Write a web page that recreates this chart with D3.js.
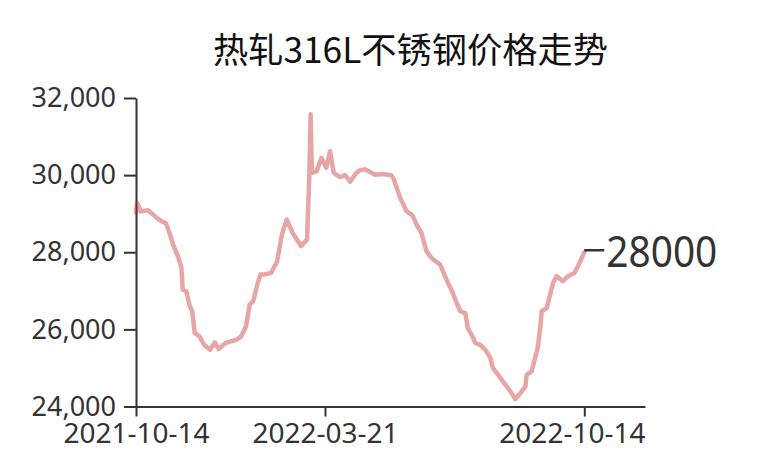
<!DOCTYPE html>
<html>
<head>
<meta charset="utf-8">
<script src="https://cdn.jsdelivr.net/npm/d3@7/dist/d3.min.js"></script>
<style>
  html, body { margin: 0; padding: 0; background: #fff; }
  svg { display: block; }
  text { font-family: "Noto Sans", "Open Sans", sans-serif; fill: #333; }
</style>
</head>
<body>
<svg id="chart" width="768" height="475"></svg>
<script>
const titleText = "热轧316L不锈钢价格走势";
const dates = [
  "2021-10-14","2021-10-15","2021-10-18","2021-10-24","2021-10-30","2021-11-03","2021-11-08","2021-11-11",
  "2021-11-14","2021-11-18","2021-11-21","2021-11-22","2021-11-25","2021-11-28","2021-11-30","2021-12-02",
  "2021-12-06","2021-12-10","2021-12-15","2021-12-19","2021-12-22","2021-12-28","2022-01-06","2022-01-10",
  "2022-01-14","2022-01-17","2022-01-20","2022-01-23","2022-01-26","2022-01-28","2022-02-04","2022-02-09",
  "2022-02-13","2022-02-17","2022-02-22","2022-03-01","2022-03-06","2022-03-07","2022-03-08","2022-03-09",
  "2022-03-10","2022-03-14","2022-03-18","2022-03-22","2022-03-25","2022-03-28","2022-04-02","2022-04-06",
  "2022-04-10","2022-04-15","2022-04-18","2022-04-22","2022-04-30","2022-05-06","2022-05-13","2022-05-15",
  "2022-05-20","2022-05-25","2022-05-30","2022-06-02","2022-06-06","2022-06-10","2022-06-14","2022-06-21",
  "2022-06-26","2022-07-01","2022-07-04","2022-07-07","2022-07-11","2022-07-13","2022-07-16","2022-07-19",
  "2022-07-23","2022-07-27","2022-07-31","2022-08-02","2022-08-08","2022-08-10","2022-08-16","2022-08-20",
  "2022-08-25","2022-08-28","2022-08-29","2022-09-02","2022-09-05","2022-09-07","2022-09-09","2022-09-10",
  "2022-09-14","2022-09-19","2022-09-22","2022-09-27","2022-10-01","2022-10-06","2022-10-09","2022-10-14"
];
const prices = [
  29030,29280,29060,29090,28930,28830,28750,28500,
  28200,27900,27600,27030,26990,26600,26470,25910,
  25820,25600,25470,25660,25490,25650,25730,25820,
  26080,26640,26730,27120,27420,27420,27460,27770,
  28460,28850,28500,28160,28330,29240,30100,31580,
  30060,30100,30450,30190,30620,30060,29950,30000,
  29830,30060,30130,30150,30010,30030,29995,29890,
  29410,29070,28950,28720,28500,28030,27850,27680,
  27290,26945,26690,26470,26420,26035,25860,25650,
  25600,25470,25260,25000,24740,24650,24390,24190,
  24390,24520,24820,24910,25300,25560,26080,26470,
  26550,27200,27380,27250,27380,27460,27640,28000
];
const xTickLabels = ["2021-10-14","2022-03-21","2022-10-14"];
const xDomainEnd = "2022-12-01";
const yTicks = [24000, 26000, 28000, 30000, 32000];

const parse = d3.timeParse("%Y-%m-%d");
const data = dates.map((d, i) => ({ date: parse(d), value: prices[i] }));

const svg = d3.select("#chart");
svg.append("rect").attr("width", 768).attr("height", 475).attr("fill", "#fff");

const x = d3.scaleTime()
  .domain([parse(xTickLabels[0]), parse(xTickLabels[1]), parse(xTickLabels[2]), parse(xDomainEnd)])
  .range([136, 325, 584.3, 645]);
const y = d3.scaleLinear().domain([24000, 32000]).range([406.5, 98]);

// Title
svg.append("text")
  .attr("x", 410.5).attr("y", 62.5)
  .attr("text-anchor", "middle")
  .attr("textLength", 395).attr("lengthAdjust", "spacingAndGlyphs")
  .style("font-family", "'Noto Sans CJK SC', 'Noto Sans', sans-serif")
  .style("font-size", "35px")
  .style("fill", "#111")
  .text(titleText);

// Axes
const xAxis = d3.axisBottom(x)
  .tickValues(xTickLabels.map(parse))
  .tickFormat(d3.timeFormat("%Y-%m-%d"))
  .tickSize(10).tickSizeOuter(0).tickPadding(7);
const gx = svg.append("g").attr("transform", `translate(0,${y(24000)})`).call(xAxis);

const yAxis = d3.axisLeft(y)
  .tickValues(yTicks)
  .tickFormat(d3.format(","))
  .tickSize(12).tickSizeOuter(0).tickPadding(8);
const gy = svg.append("g").attr("transform", `translate(${x.range()[0]},0)`).call(yAxis);

[gx, gy].forEach(g => {
  g.selectAll("path.domain").attr("stroke", "#333").attr("stroke-width", 2);
  g.selectAll(".tick line").attr("stroke", "#333").attr("stroke-width", 2);
  g.selectAll(".tick text").style("fill", "#333")
    .style("font-family", "'Noto Sans', sans-serif");
});
gx.selectAll(".tick text").style("font-size", "28px");
gy.selectAll(".tick text").style("font-size", "27px");

// keep the last x label inside the axis extent
const xEnd = x.range()[x.range().length - 1];
gx.selectAll(".tick").filter((d, i, n) => i === n.length - 1)
  .select("text")
  .attr("text-anchor", "end")
  .attr("x", xEnd - x(parse(xTickLabels[2])));

// Line
const line = d3.line().x(d => x(d.date)).y(d => y(d.value));
svg.append("path")
  .datum(data)
  .attr("fill", "none")
  .attr("stroke", "rgb(200,40,40)")
  .attr("stroke-opacity", 0.42)
  .attr("stroke-width", 4.5)
  .attr("stroke-linejoin", "round")
  .attr("stroke-linecap", "round")
  .attr("d", line);

// End label
const last = data[data.length - 1];
const lx = x(last.date), ly = y(last.value);
svg.append("line")
  .attr("x1", lx).attr("x2", lx + 20)
  .attr("y1", ly - 2).attr("y2", ly - 2)
  .attr("stroke", "#333").attr("stroke-width", 2.5);
svg.append("text")
  .attr("x", lx + 22).attr("y", ly + 15)
  .attr("textLength", 111).attr("lengthAdjust", "spacingAndGlyphs")
  .style("font-size", "43px")
  .style("fill", "#333")
  .text(String(last.value));
</script>
</body>
</html>
